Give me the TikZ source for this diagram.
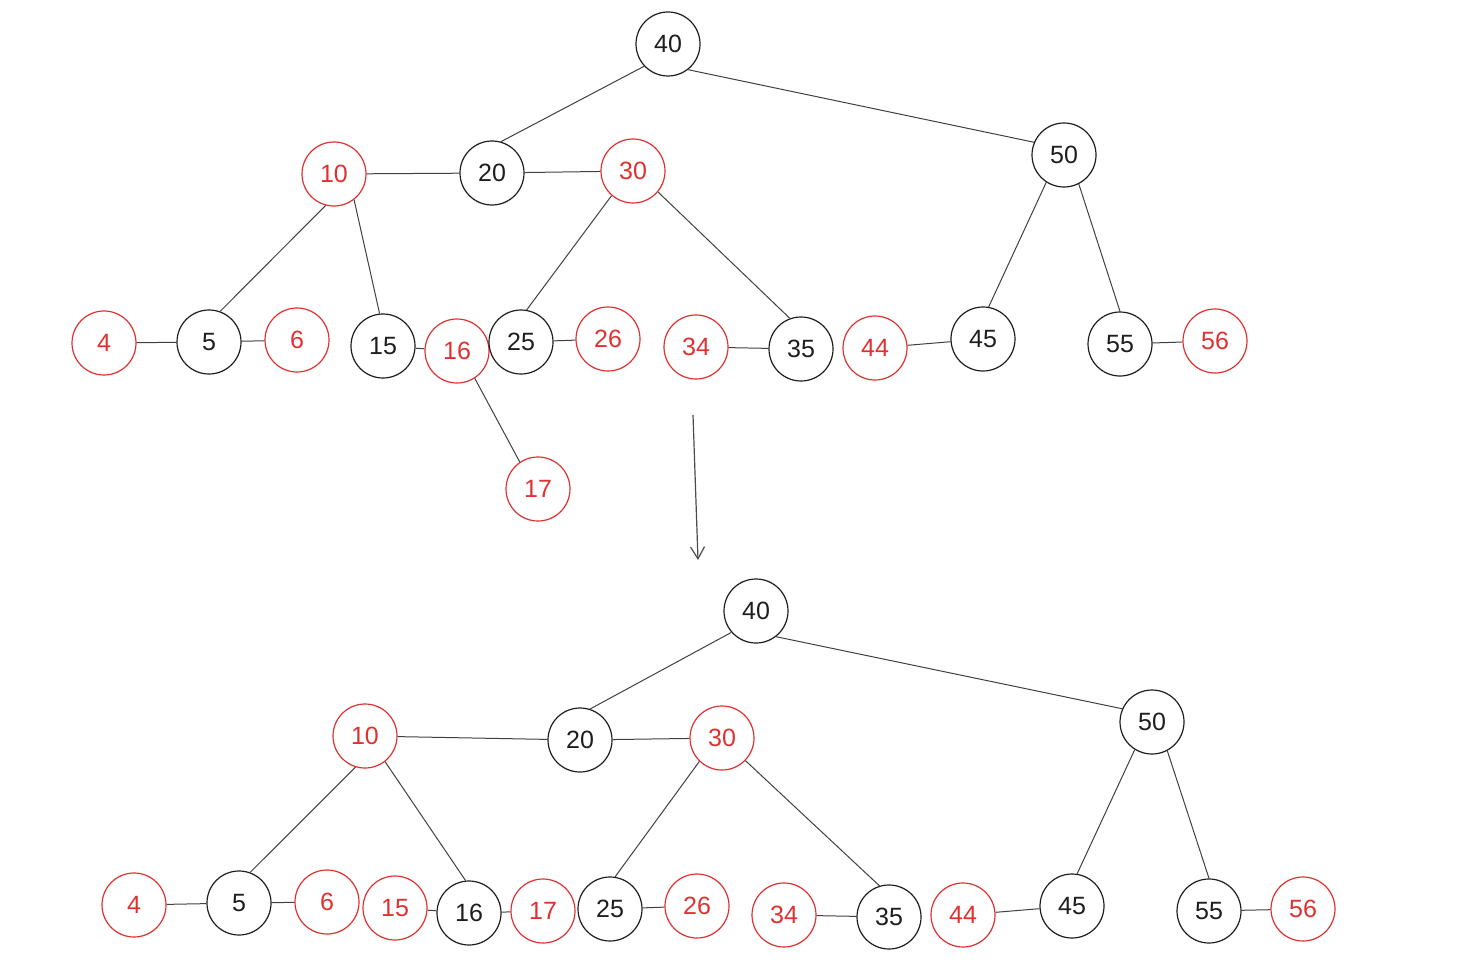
\documentclass[tikz,border=0pt]{standalone}
\usepackage{fontspec}
\setmainfont{Liberation Sans}
\usetikzlibrary{arrows.meta}
\definecolor{inkblack}{HTML}{1e1e1e}
\definecolor{inkred}{HTML}{e03131}
\tikzset{
  keynode/.style={circle, draw=#1, text=#1, minimum size=32pt, inner sep=0pt,
                  line width=0.6pt, font=\fontsize{12.5}{14}\selectfont},
  blk/.style={keynode=inkblack},
  red/.style={keynode=inkred},
  link/.style={draw=inkblack!85, line width=0.5pt},
  steparr/.style={-{Straight Barb[length=6pt, width=7pt]}, draw=inkblack!80, line width=0.6pt},
}
\begin{document}
\begin{tikzpicture}[x=0.5pt, y=-0.5pt]
  \useasboundingbox (0,0) rectangle (1467,974);

  % Before: 17 inserted under 16
  \node[blk] (a40) at (668,44) {40};
  \node[red] (a10) at (334,174) {10};
  \node[blk] (a20) at (492,173) {20};
  \node[red] (a30) at (633,171) {30};
  \node[blk] (a50) at (1064,155) {50};
  \node[red] (a4)  at (104,343) {4};
  \node[blk] (a5)  at (209,342) {5};
  \node[red] (a6)  at (297,340) {6};
  \node[blk] (a15) at (383,346) {15};
  \node[red] (a16) at (457,351) {16};
  \node[blk] (a25) at (521,342) {25};
  \node[red] (a26) at (608,339) {26};
  \node[red] (a34) at (696,347) {34};
  \node[blk] (a35) at (801,349) {35};
  \node[red] (a44) at (875,348) {44};
  \node[blk] (a45) at (983,339) {45};
  \node[blk] (a55) at (1120,344) {55};
  \node[red] (a56) at (1215,341) {56};
  \node[red] (a17) at (538,489) {17};

  \draw[link] (a40.223) -- (a20.74);
  \draw[link] (a40.308) -- (a50.157);
  \draw[link] (a10) -- (a20);
  \draw[link] (a20) -- (a30);
  \draw[link] (a10.255) -- (a5.70);
  \draw[link] (a10.308) -- (a15.96);
  \draw[link] (a30.229) -- (a25.80);
  \draw[link] (a30.320) -- (a35.110);
  \draw[link] (a50.237) -- (a45.80);
  \draw[link] (a50.297) -- (a55.90);
  \draw[link] (a4) -- (a5);
  \draw[link] (a5) -- (a6);
  \draw[link] (a15) -- (a16);
  \draw[link] (a16.303) -- (a17.124);
  \draw[link] (a25) -- (a26);
  \draw[link] (a34) -- (a35);
  \draw[link] (a44) -- (a45);
  \draw[link] (a55) -- (a56);

  % Step arrow
  \coordinate (from) at (693,415);
  \coordinate (to) at (698,560);
  \draw[steparr] (from) -- (to);

  % After: node split
  \node[blk] (b40) at (756,611) {40};
  \node[red] (b10) at (365,736) {10};
  \node[blk] (b20) at (580,740) {20};
  \node[red] (b30) at (722,738) {30};
  \node[blk] (b50) at (1152,722) {50};
  \node[red] (b4)  at (134,905) {4};
  \node[blk] (b5)  at (239,903) {5};
  \node[red] (b6)  at (327,902) {6};
  \node[red] (b15) at (395,908) {15};
  \node[blk] (b16) at (469,913) {16};
  \node[red] (b17) at (543,911) {17};
  \node[blk] (b25) at (610,909) {25};
  \node[red] (b26) at (697,906) {26};
  \node[red] (b34) at (784,915) {34};
  \node[blk] (b35) at (889,917) {35};
  \node[red] (b44) at (963,915) {44};
  \node[blk] (b45) at (1072,906) {45};
  \node[blk] (b55) at (1209,911) {55};
  \node[red] (b56) at (1303,909) {56};

  \draw[link] (b40.221) -- (b20.72);
  \draw[link] (b40.308) -- (b50.156);
  \draw[link] (b10) -- (b20);
  \draw[link] (b20) -- (b30);
  \draw[link] (b10.253) -- (b5.70);
  \draw[link] (b10.308) -- (b16.96);
  \draw[link] (b30.226) -- (b25.81);
  \draw[link] (b30.316) -- (b35.107);
  \draw[link] (b50.238) -- (b45.81);
  \draw[link] (b50.298) -- (b55.90);
  \draw[link] (b4) -- (b5);
  \draw[link] (b5) -- (b6);
  \draw[link] (b15) -- (b16);
  \draw[link] (b16) -- (b17);
  \draw[link] (b25) -- (b26);
  \draw[link] (b34) -- (b35);
  \draw[link] (b44) -- (b45);
  \draw[link] (b55) -- (b56);
\end{tikzpicture}
\end{document}
